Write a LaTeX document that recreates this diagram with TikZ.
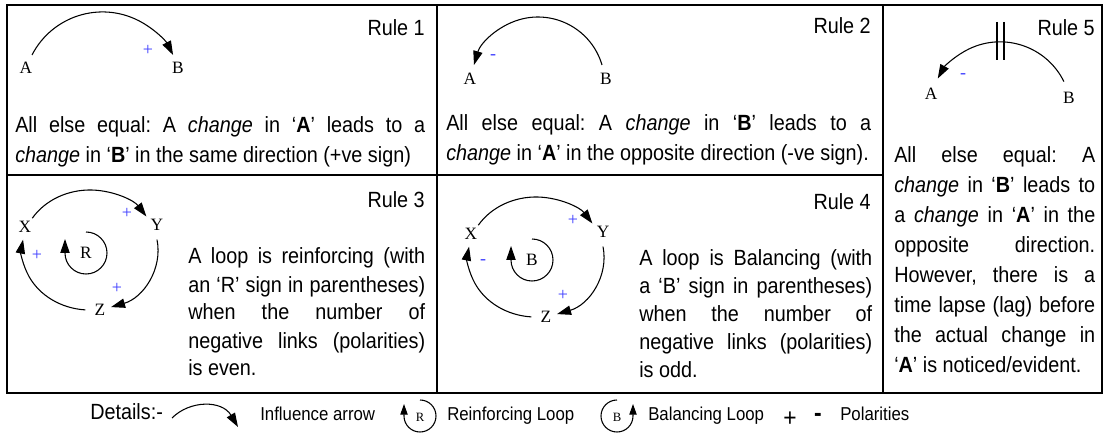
\documentclass[tikz,border=0pt]{standalone}
\usepackage{fontspec}
\setmainfont{Liberation Sans}[FakeStretch=0.9]
\newfontfamily\labelfont{Liberation Serif}
\usetikzlibrary{arrows.meta}
\definecolor{signblue}{RGB}{60,60,255}
\hyphenpenalty=10000
\exhyphenpenalty=10000
\tikzset{
  grid/.style={line width=1.5pt},
  link/.style={line width=0.8pt, -{Triangle[length=10.5pt,width=7pt]}},
  smalllink/.style={line width=0.8pt, -{Triangle[length=8pt,width=5.5pt]}},
  var/.style={font=\labelfont\fontsize{13pt}{15pt}\selectfont, inner sep=0pt},
  smallvar/.style={font=\labelfont\fontsize{9.5pt}{11pt}\selectfont, inner sep=0pt},
  sign/.style={font=\labelfont\fontsize{13.5pt}{15pt}\selectfont, text=signblue, inner sep=0pt},
  rulelabel/.style={font=\fontsize{16.5pt}{18pt}\selectfont, anchor=east, inner sep=0pt},
  body/.style={align=justify, anchor=base west, inner sep=0pt},
  bodyA/.style={body, font=\fontsize{16.5pt}{22.1pt}\selectfont},
  bodyB/.style={body, font=\fontsize{16.5pt}{21pt}\selectfont},
  bodyC/.style={body, font=\fontsize{16.5pt}{22.5pt}\selectfont},
  legend/.style={font=\fontsize{14pt}{15pt}\selectfont, anchor=base west, inner sep=0pt},
  bigsign/.style={font=\fontsize{19pt}{20pt}\selectfont, inner sep=0pt},
}
\begin{document}
\begin{tikzpicture}[x=0.75pt,y=0.75pt]
\useasboundingbox (0,0) rectangle (1105,-441);
% ---------- table ----------
\draw[grid] (7,-5) rectangle (1102,-393);
\draw[grid] (437,-5) -- (437,-393);
\draw[grid] (883,-5) -- (883,-393);
\draw[grid] (7,-175) -- (883,-175);

% ---------- Rule 1 ----------
\node[rulelabel] (rule1) at (425,-28) {Rule 1};
\node[var] (a1) at (26,-68) {A};
\node[var] (b1) at (178,-68) {B};
\coordinate (a1out) at (32,-55);
\draw[link] (a1out) arc[start angle=152.8, end angle=27.2, radius=79.3];
\node[sign] (s1) at (148,-50) {+};
\node[bodyA, text width=307.5pt] (t1) at (15,-133) {All~else~equal:~A~\emph{change}~in~‘\textbf{A}’~leads~to~a \linebreak \emph{change}~in~‘\textbf{B}’~in~the~same~direction~(+ve~sign)};

% ---------- Rule 2 ----------
\node[rulelabel] (rule2) at (871,-26) {Rule 2};
\node[var] (a2) at (470,-79) {A};
\node[var] (b2) at (606,-79) {B};
\coordinate (b2out) at (602,-65);
\draw[link] (b2out) arc[start angle=16.3, end angle=163.7, radius=66.7];
\node[sign] (s2) at (493,-57) {-};
\node[bodyA, text width=318.75pt] (t2) at (446,-131) {All~else~equal:~A~\emph{change}~in~‘\textbf{B}’~leads~to~a \linebreak \emph{change}~in~‘\textbf{A}’~in~the~opposite~direction~(-ve~sign).};

% ---------- Rule 5 ----------
\node[rulelabel] (rule5) at (1095,-28) {Rule 5};
\node[var] (a5) at (931,-94) {A};
\node[var] (b5) at (1069,-98) {B};
\coordinate (b5out) at (1063.9,-81.6);
\draw[link] (b5out) arc[start angle=26.2, end angle=151, radius=71.2];
\coordinate (d1t) at (997,-22); \coordinate (d1b) at (997,-60);
\coordinate (d2t) at (1004,-22); \coordinate (d2b) at (1004,-60);
\draw[line width=0.8pt] (d1t) -- (d1b);
\draw[line width=0.8pt] (d2t) -- (d2b);
\node[sign] (s5) at (963,-76) {-};
\node[bodyC, text width=150.75pt] (t5) at (894,-163) {All~else~equal:~A \linebreak \emph{change}~in~‘\textbf{B}’~leads~to \linebreak a~\emph{change}~in~‘\textbf{A}’~in~the \linebreak opposite~direction. \linebreak However,~there~is~a \linebreak time~lapse~(lag)~before \linebreak the~actual~change~in \linebreak ‘\textbf{A}’~is~noticed/evident.};

% ---------- Rule 3 ----------
\node[rulelabel] (rule3) at (425,-200) {Rule 3};
\node[var] (x3) at (25,-227) {X};
\node[var] (y3) at (157,-225) {Y};
\node[var] (z3) at (100,-310) {Z};
\node[var] (r3) at (86,-253) {R};
\coordinate (x3out) at (32.3,-218.2);
\coordinate (y3out) at (157.0,-239.6);
\coordinate (z3out) at (85.3,-309.9);
\draw[link] (x3out) arc[start angle=148, end angle=34, x radius=68, y radius=60];
\draw[link] (y3out) arc[start angle=10, end angle=-72, x radius=68, y radius=60];
\draw[link] (z3out) arc[start angle=-94, end angle=-190, x radius=68, y radius=60];
\coordinate (r3top) at (86,-232);
\draw[link] (r3top) arc[start angle=90, end angle=-180, radius=21] -- ++(0,14);
\node[sign] (s3a) at (127,-213) {+};
\node[sign] (s3b) at (37,-255) {+};
\node[sign] (s3c) at (117,-288) {+};
\node[bodyB, text width=177.75pt] (t3) at (188,-264) {A~loop~is~reinforcing~(with \linebreak an~‘R’~sign~in~parentheses) \linebreak when~the~number~of \linebreak negative~links~(polarities) \linebreak is~even.};

% ---------- Rule 4 ----------
\node[rulelabel] (rule4) at (871,-202) {Rule 4};
\begin{scope}[shift={(446,-7)}]
\node[var] (x4) at (25,-227) {X};
\node[var] (y4) at (157,-225) {Y};
\node[var] (z4) at (100,-310) {Z};
\node[var] (r4) at (86,-253) {B};
\coordinate (x4out) at (32.3,-218.2);
\coordinate (y4out) at (157.0,-239.6);
\coordinate (z4out) at (85.3,-309.9);
\draw[link] (x4out) arc[start angle=148, end angle=34, x radius=68, y radius=60];
\draw[link] (y4out) arc[start angle=10, end angle=-72, x radius=68, y radius=60];
\draw[link] (z4out) arc[start angle=-94, end angle=-190, x radius=68, y radius=60];
\coordinate (r4top) at (86,-232);
\draw[link] (r4top) arc[start angle=90, end angle=-180, radius=21] -- ++(0,14);
\node[sign] (s4a) at (127,-213) {+};
\node[sign] (s4b) at (37,-255) {-};
\node[sign] (s4c) at (117,-288) {+};
\end{scope}
\node[bodyB, text width=174.75pt] (t4) at (639,-266) {A~loop~is~Balancing~(with \linebreak a~‘B’~sign~in~parentheses) \linebreak when~the~number~of \linebreak negative~links~(polarities) \linebreak is~odd.};

% ---------- Legend ----------
\node[font=\fontsize{16.5pt}{18pt}\selectfont, anchor=base west, inner sep=0pt] (details) at (90,-419) {Details:-};
\coordinate (la1) at (172,-418);
\coordinate (la2) at (238,-427);
\draw[link] (la1) .. controls (190,-400) and (222,-400) .. (la2);
\node[legend] (linf) at (260,-420) {Influence arrow};
\node[smallvar] (lr) at (420,-417) {R};
\coordinate (lrtop) at (420,-400);
\draw[smalllink] (lrtop) arc[start angle=90, end angle=-180, radius=16] -- ++(0,12);
\node[legend] (lrein) at (447,-420) {Reinforcing Loop};
\node[smallvar] (lb) at (617,-417) {B};
\coordinate (lbtop) at (617,-400);
\draw[smalllink] (lbtop) arc[start angle=90, end angle=360, radius=16] -- ++(0,12);
\node[legend] (lbal) at (648,-420) {Balancing Loop};
\node[bigsign] (lplus) at (790,-419) {+};
\node[bigsign, font=\fontsize{19pt}{20pt}\selectfont\bfseries] (lminus) at (818,-417) {-};
\node[legend] (lpol) at (840,-420) {Polarities};
\end{tikzpicture}
\end{document}
